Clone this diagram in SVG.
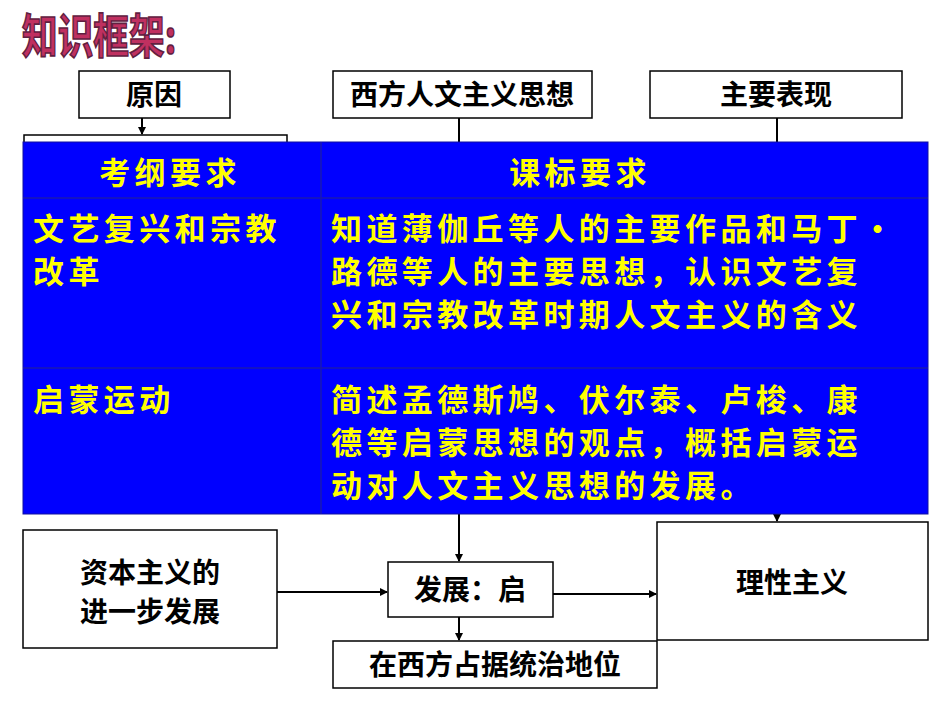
<svg xmlns="http://www.w3.org/2000/svg" width="950" height="713" viewBox="0 0 950 713">
<style>
.b{fill:#fff;stroke:#000;stroke-width:1.5}
.t{font-family:"Noto Sans CJK SC",sans-serif;font-weight:bold;fill:#000;font-size:28px}
.y{font-family:"Noto Sans CJK SC",sans-serif;font-weight:bold;fill:#ffff00;font-size:31px;letter-spacing:4.4px}
.l{stroke:#000;stroke-width:2;fill:none}
</style>
<defs><marker id="a" markerWidth="8" markerHeight="8" refX="7" refY="4" orient="auto" markerUnits="userSpaceOnUse"><path d="M0,0L8,4L0,8z" fill="#000"/></marker></defs>
<text x="22" y="52" font-family="Noto Sans CJK SC,sans-serif" font-weight="bold" font-size="42" fill="#c03060" stroke="#602040" stroke-width="1.5" transform="translate(22 0) scale(0.85 1.1) translate(-22 -4)">知识框架:</text>
<g id="yuanyin"><rect class="b" x="79" y="71" width="151" height="47"/><text class="t" x="154" y="105" text-anchor="middle">原因</text></g>
<g id="xifang"><rect class="b" x="333" y="71" width="259" height="47"/><text class="t" x="462" y="105" text-anchor="middle">西方人文主义思想</text></g>
<g id="zhuyao"><rect class="b" x="650" y="71" width="252" height="47"/><text class="t" x="776" y="105" text-anchor="middle">主要表现</text></g>
<g id="hidden"><rect class="b" x="24" y="135" width="263" height="20"/></g>
<g id="connectors">
<line class="l" x1="142" y1="118" x2="142" y2="134" marker-end="url(#a)"/>
<line class="l" x1="459" y1="118" x2="459" y2="142"/>
<line class="l" x1="777" y1="118" x2="777" y2="142"/>
<line class="l" x1="459" y1="514" x2="459" y2="561" marker-end="url(#a)"/>
<line class="l" x1="777" y1="514" x2="777" y2="521" marker-end="url(#a)"/>
<line class="l" x1="277" y1="592" x2="387" y2="592" marker-end="url(#a)"/>
<line class="l" x1="553" y1="594" x2="656" y2="594" marker-end="url(#a)"/>
<line class="l" x1="459" y1="617" x2="459" y2="640" marker-end="url(#a)"/>
</g>
<g id="table">
<rect x="23" y="142" width="905" height="372" fill="#0000ff" stroke="#1010a0"/>
<line x1="321" y1="142" x2="321" y2="514" stroke="#1a1ab0" stroke-width="1.5"/>
<line x1="23" y1="198" x2="928" y2="198" stroke="#1a1ab0" stroke-width="1.5"/>
<line x1="23" y1="368" x2="928" y2="368" stroke="#1a1ab0" stroke-width="1.5"/>
<text class="y" x="170" y="184" text-anchor="middle">考纲要求</text>
<text class="y" x="580" y="184" text-anchor="middle">课标要求</text>
<text class="y" x="33" y="240">文艺复兴和宗教</text>
<text class="y" x="33" y="283">改革</text>
<text class="y" x="331" y="240">知道薄伽丘等人的主要作品和马丁•</text>
<text class="y" x="331" y="283">路德等人的主要思想，认识文艺复</text>
<text class="y" x="331" y="326">兴和宗教改革时期人文主义的含义</text>
<text class="y" x="33" y="411">启蒙运动</text>
<text class="y" x="331" y="411">简述孟德斯鸠、伏尔泰、卢梭、康</text>
<text class="y" x="331" y="454">德等启蒙思想的观点，概括启蒙运</text>
<text class="y" x="331" y="497">动对人文主义思想的发展。</text>
</g>
<g id="lixing"><rect class="b" x="657" y="522" width="271" height="118"/><text class="t" x="792" y="593" text-anchor="middle">理性主义</text></g>
<g id="ziben"><rect class="b" x="23" y="530" width="254" height="118"/><text class="t" x="150" y="583" text-anchor="middle">资本主义的</text><text class="t" x="150" y="622" text-anchor="middle">进一步发展</text></g>
<g id="fazhan"><rect class="b" x="388" y="562" width="165" height="55"/><text class="t" x="470" y="600" text-anchor="middle">发展：启</text></g>
<g id="zaixifang"><rect class="b" x="333" y="641" width="324" height="47"/><text class="t" x="495" y="675" text-anchor="middle">在西方占据统治地位</text></g>
</svg>
